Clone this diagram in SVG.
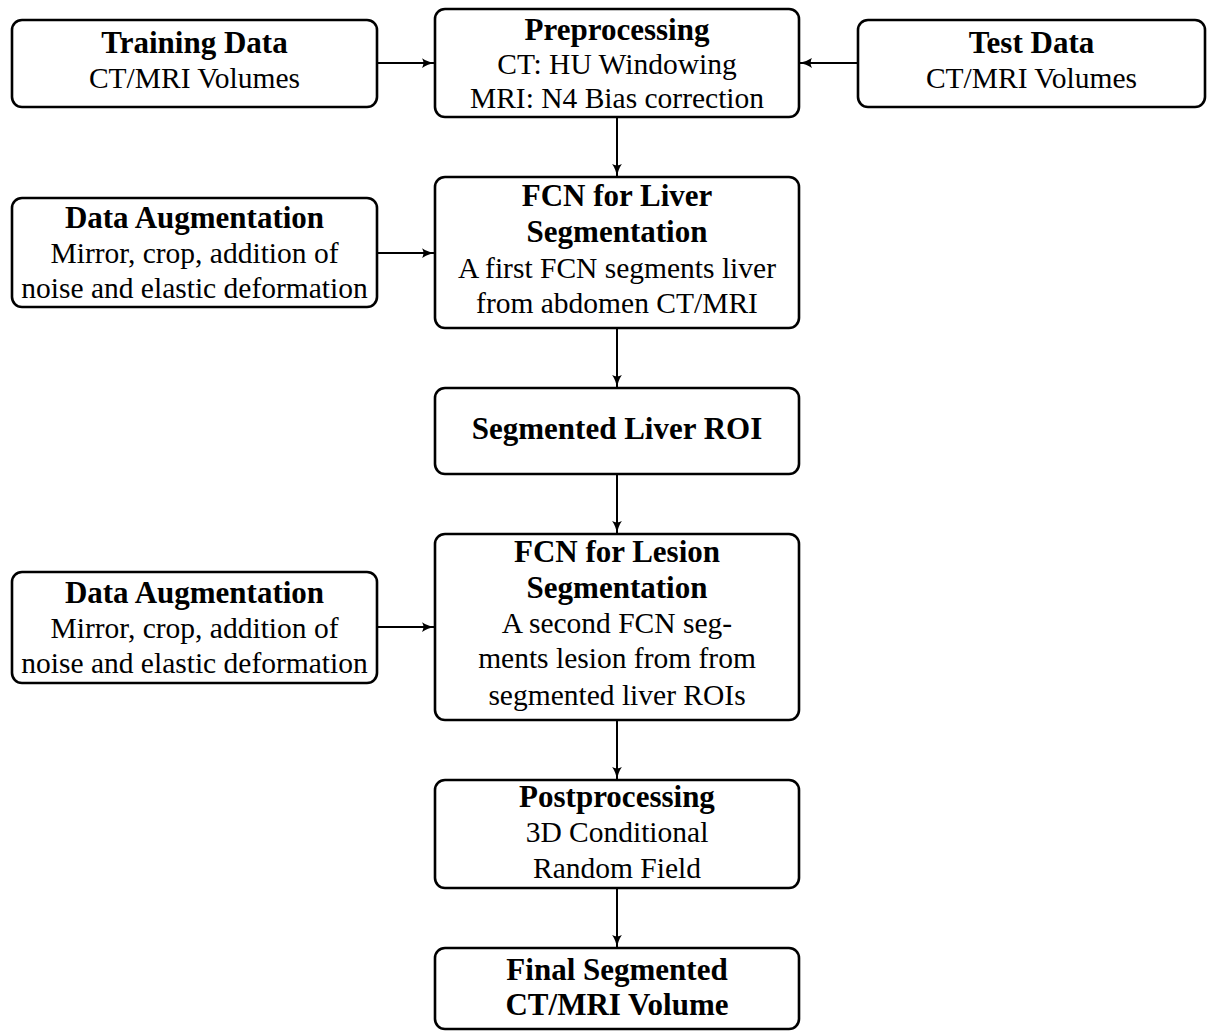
<svg xmlns="http://www.w3.org/2000/svg" width="1216" height="1031" viewBox="0 0 1216 1031">
<defs>
<style>
.box{fill:#fff;stroke:#000;stroke-width:2.6}
.t{font-family:'Liberation Serif','DejaVu Serif','Noto Serif',serif;font-size:29.5px;fill:#000;text-anchor:middle}
.b{font-weight:bold;font-size:31px}
.c{stroke:#000;stroke-width:2;fill:none;marker-end:url(#ah)}
</style>
<marker id="ah" viewBox="0 0 12 10" refX="11" refY="5" markerWidth="13" markerHeight="11" markerUnits="userSpaceOnUse" orient="auto">
<path d="M0,0.5 Q5,4 12,5 Q5,6 0,9.5 Q2.5,5 0,0.5 z" fill="#000"/>
</marker>
</defs>
<rect width="1216" height="1031" fill="#fff"/>
<g id="connectors">
<line class="c" x1="378" y1="63" x2="434" y2="63"/>
<line class="c" x1="857" y1="63" x2="800" y2="63"/>
<line class="c" x1="617" y1="118" x2="617" y2="176"/>
<line class="c" x1="378" y1="253" x2="434" y2="253"/>
<line class="c" x1="617" y1="329" x2="617" y2="387"/>
<line class="c" x1="617" y1="475" x2="617" y2="533"/>
<line class="c" x1="378" y1="627" x2="434" y2="627"/>
<line class="c" x1="617" y1="721" x2="617" y2="779"/>
<line class="c" x1="617" y1="889" x2="617" y2="947"/>
</g>
<g id="training">
<rect class="box" x="12" y="20" width="365" height="87" rx="10"/>
<text class="t b" x="194.5" y="53">Training Data</text>
<text class="t" x="194.5" y="88">CT/MRI Volumes</text>
</g>
<g id="preprocessing">
<rect class="box" x="435" y="9" width="364" height="108" rx="10"/>
<text class="t b" x="617" y="40">Preprocessing</text>
<text class="t" x="617" y="74">CT: HU Windowing</text>
<text class="t" x="617" y="108">MRI: N4 Bias correction</text>
</g>
<g id="test">
<rect class="box" x="858" y="20" width="347" height="87" rx="10"/>
<text class="t b" x="1031.5" y="53">Test Data</text>
<text class="t" x="1031.5" y="88">CT/MRI Volumes</text>
</g>
<g id="augmentation1">
<rect class="box" x="12" y="198" width="365" height="109" rx="10"/>
<text class="t b" x="194.5" y="228">Data Augmentation</text>
<text class="t" x="194.5" y="263">Mirror, crop, addition of</text>
<text class="t" x="194.5" y="298">noise and elastic deformation</text>
</g>
<g id="fcn-liver">
<rect class="box" x="435" y="177" width="364" height="151" rx="10"/>
<text class="t b" x="617" y="206">FCN for Liver</text>
<text class="t b" x="617" y="242">Segmentation</text>
<text class="t" x="617" y="278">A first FCN segments liver</text>
<text class="t" x="617" y="313">from abdomen CT/MRI</text>
</g>
<g id="liver-roi">
<rect class="box" x="435" y="388" width="364" height="86" rx="10"/>
<text class="t b" x="617" y="439">Segmented Liver ROI</text>
</g>
<g id="augmentation2">
<rect class="box" x="12" y="572" width="365" height="111" rx="10"/>
<text class="t b" x="194.5" y="603">Data Augmentation</text>
<text class="t" x="194.5" y="638">Mirror, crop, addition of</text>
<text class="t" x="194.5" y="673">noise and elastic deformation</text>
</g>
<g id="fcn-lesion">
<rect class="box" x="435" y="534" width="364" height="186" rx="10"/>
<text class="t b" x="617" y="562">FCN for Lesion</text>
<text class="t b" x="617" y="598">Segmentation</text>
<text class="t" x="617" y="633">A second FCN seg-</text>
<text class="t" x="617" y="668">ments lesion from from</text>
<text class="t" x="617" y="705">segmented liver ROIs</text>
</g>
<g id="postprocessing">
<rect class="box" x="435" y="780" width="364" height="108" rx="10"/>
<text class="t b" x="617" y="807">Postprocessing</text>
<text class="t" x="617" y="842">3D Conditional</text>
<text class="t" x="617" y="878">Random Field</text>
</g>
<g id="final">
<rect class="box" x="435" y="948" width="364" height="81" rx="10"/>
<text class="t b" x="617" y="980">Final Segmented</text>
<text class="t b" x="617" y="1015">CT/MRI Volume</text>
</g>
</svg>
